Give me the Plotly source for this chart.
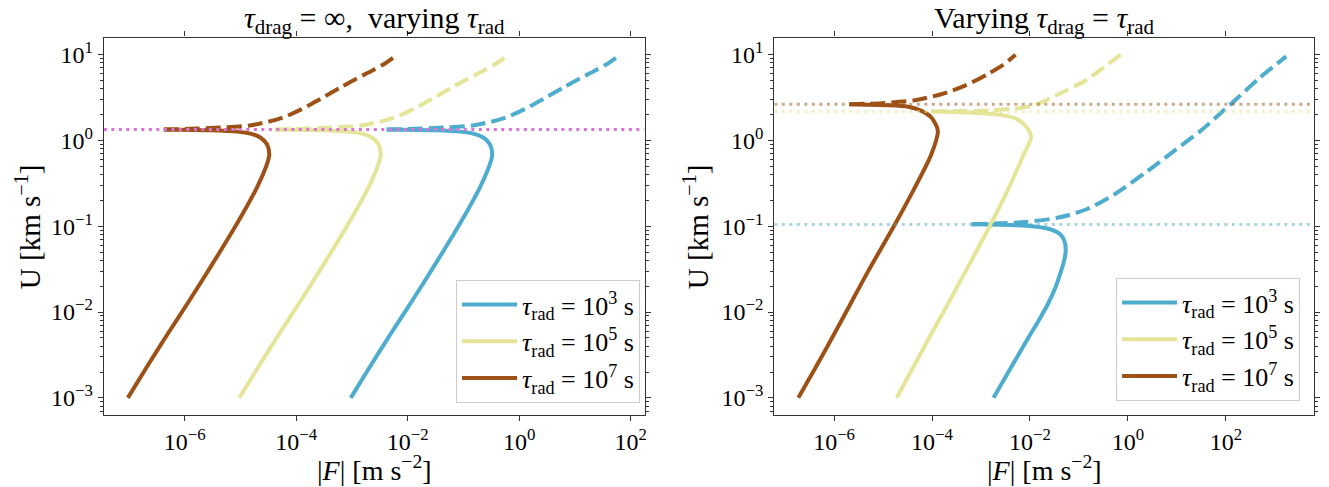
import numpy as np
import plotly.graph_objects as go

# ---------------- data (log10 values) ----------------
# Left panel: tau_drag = inf, varying tau_rad
L_brown_solid_logF = [-7.02, -6.66, -6.30, -5.93, -5.56, -5.2, -5.032, -4.704, -4.524, -4.482, -4.524, -4.643, -4.822, -5.062, -5.539, -6.375]
L_yellow_solid_logF = [-5.02, -4.66, -4.30, -3.93, -3.56, -3.2, -3.032, -2.704, -2.524, -2.482, -2.524, -2.643, -2.822, -3.062, -3.539, -4.375]
L_blue_solid_logF = [-3.02, -2.66, -2.30, -1.93, -1.56, -1.2, -1.032, -0.704, -0.524, -0.482, -0.524, -0.643, -0.822, -1.062, -1.539, -2.375]
L_solid_logU = [-3.0, -2.62, -2.25, -1.88, -1.5, -1.12, -0.937, -0.549, -0.277, -0.16, -0.044, 0.034, 0.08, 0.103, 0.118, 0.127]

L_brown_dash_logF = [-6.375, -5.9, -5.36, -4.8, -4.27, -3.9, -3.55, -3.2, -2.92, -2.65, -2.4, -2.19]
L_yellow_dash_logF = [-4.375, -3.9, -3.36, -2.8, -2.27, -1.9, -1.55, -1.2, -0.92, -0.65, -0.4, -0.18]
L_blue_dash_logF = [-2.375, -1.9, -1.36, -0.8, -0.27, 0.1, 0.45, 0.8, 1.08, 1.35, 1.6, 1.81]
L_dash_logU = [0.127, 0.135, 0.150, 0.178, 0.26, 0.365, 0.49, 0.62, 0.72, 0.81, 0.9, 1.0]

L_Ucrit = [1.34]  # km/s, dotted line

# Right panel: varying tau_drag = tau_rad
R_brown_solid_logF = [-6.73, -6.38, -6.04, -5.68, -5.30, -4.757, -4.352, -4.014, -3.881, -4.014, -4.217, -4.488, -4.96, -5.688]
R_brown_solid_logU = [-3.0, -2.65, -2.30, -1.92, -1.52, -0.977, -0.549, -0.16, 0.112, 0.267, 0.345, 0.392, 0.411, 0.422]
R_brown_dash_logF = [-5.688, -5.3, -4.96, -4.352, -3.812, -3.34, -2.868, -2.55, -2.294]
R_brown_dash_logU = [0.422, 0.428, 0.438, 0.469, 0.539, 0.636, 0.772, 0.88, 0.998]

R_yellow_solid_logF = [-4.723, -4.39, -4.058, -3.69, -3.31, -2.8, -2.43, -2.126, -1.978, -2.059, -2.261, -2.597, -3.138, -4.014]
R_yellow_solid_logU = [-3.0, -2.65, -2.30, -1.92, -1.52, -0.977, -0.549, -0.16, 0.034, 0.150, 0.247, 0.298, 0.322, 0.337]
R_yellow_dash_logF = [-4.014, -3.4, -2.767, -1.957, -1.417, -0.877, -0.5, -0.136]
R_yellow_dash_logU = [0.337, 0.342, 0.352, 0.403, 0.539, 0.695, 0.85, 1.005]

R_blue_solid_logF = [-2.744, -2.39, -2.031, -1.827, -1.637, -1.48, -1.364, -1.303, -1.27, -1.297, -1.385, -1.589, -2.07, -3.19]
R_blue_solid_logU = [-3.0, -2.65, -2.297, -2.103, -1.909, -1.714, -1.52, -1.403, -1.287, -1.17, -1.093, -1.035, -0.995, -0.977]
R_blue_dash_logF = [-3.19, -2.6, -2.091, -1.417, -0.844, -0.27, 0.405, 0.945, 1.484, 1.93, 2.1, 2.698, 3.158, 3.23]
R_blue_dash_logU = [-0.977, -0.965, -0.950, -0.899, -0.802, -0.627, -0.354, -0.121, 0.112, 0.337, 0.422, 0.733, 0.946, 0.98]

R_Ucrit = [2.64, 2.17, 0.105]  # brown, yellow, blue

legend_labels = ["<i>τ</i><sub>rad</sub> = 10<sup>3</sup> s",
                 "<i>τ</i><sub>rad</sub> = 10<sup>5</sup> s",
                 "<i>τ</i><sub>rad</sub> = 10<sup>7</sup> s"]
x_tick_exps = [-6, -4, -2, 0, 2]
y_tick_exps = [-3, -2, -1, 0, 1]

# ---------------- styling ----------------
C_BLUE = "#4EACCE"
C_YELLOW = "#E5E599"
C_BROWN = "#9E5116"
C_MAGENTA = "#D873D8"
C_DOT = ["rgba(158,81,22,0.5)", "rgba(229,229,153,0.55)", "rgba(78,172,206,0.5)"]
FONT = "Liberation Serif"
W, H = 1329, 487
LW = 4
DASH = "15px,6px"

L_xrange = [-7.45, 2.25]
R_xrange = [-7.22, 3.80]
Y_range = [-3.2, 1.2]

def p(v):
    return np.power(10.0, np.array(v, dtype=float))

fig = go.Figure()

def add_curve(xa, ya, logF, logU, color, dash, name=None, legend=None, show=False):
    fig.add_trace(go.Scatter(
        x=p(logF), y=p(logU), mode="lines", xaxis=xa, yaxis=ya,
        line=dict(color=color, width=LW, dash=dash, shape="spline", smoothing=0.8),
        name=name, showlegend=show, legend=legend, hoverinfo="skip"))

# left panel
add_curve("x", "y", L_blue_solid_logF, L_solid_logU, C_BLUE, "solid", legend_labels[0], "legend", True)
add_curve("x", "y", L_blue_dash_logF, L_dash_logU, C_BLUE, DASH, legend="legend")
add_curve("x", "y", L_yellow_solid_logF, L_solid_logU, C_YELLOW, "solid", legend_labels[1], "legend", True)
add_curve("x", "y", L_yellow_dash_logF, L_dash_logU, C_YELLOW, DASH, legend="legend")
add_curve("x", "y", L_brown_solid_logF, L_solid_logU, C_BROWN, "solid", legend_labels[2], "legend", True)
add_curve("x", "y", L_brown_dash_logF, L_dash_logU, C_BROWN, DASH, legend="legend")

# right panel
add_curve("x2", "y2", R_blue_solid_logF, R_blue_solid_logU, C_BLUE, "solid", legend_labels[0], "legend2", True)
add_curve("x2", "y2", R_blue_dash_logF, R_blue_dash_logU, C_BLUE, DASH, legend="legend2")
add_curve("x2", "y2", R_yellow_solid_logF, R_yellow_solid_logU, C_YELLOW, "solid", legend_labels[1], "legend2", True)
add_curve("x2", "y2", R_yellow_dash_logF, R_yellow_dash_logU, C_YELLOW, DASH, legend="legend2")
add_curve("x2", "y2", R_brown_solid_logF, R_brown_solid_logU, C_BROWN, "solid", legend_labels[2], "legend2", True)
add_curve("x2", "y2", R_brown_dash_logF, R_brown_dash_logU, C_BROWN, DASH, legend="legend2")

# dotted critical-velocity lines (full axis width)
for u in L_Ucrit:
    fig.add_trace(go.Scatter(x=p(L_xrange), y=[u, u], mode="lines", xaxis="x", yaxis="y",
                             line=dict(color=C_MAGENTA, width=3, dash="3px,4.5px"),
                             showlegend=False, hoverinfo="skip"))
for u, c in zip(R_Ucrit, C_DOT):
    fig.add_trace(go.Scatter(x=p(R_xrange), y=[u, u], mode="lines", xaxis="x2", yaxis="y2",
                             line=dict(color=c, width=3, dash="3px,4.5px"),
                             showlegend=False, hoverinfo="skip"))

# ---------------- axes ----------------
def sup(e):
    return "10<sup>" + (str(e) if e >= 0 else "\u2212" + str(-e)) + "</sup>"

minor_y = [m * 10.0 ** d for d in range(-4, 2) for m in range(2, 10)]
minor_y = [v for v in minor_y if Y_range[0] <= np.log10(v) <= Y_range[1]]

axis_common = dict(type="log", showgrid=False, zeroline=False, showline=True,
                   linecolor="#333333", linewidth=1.2, mirror="ticks",
                   ticks="outside", ticklen=5, tickwidth=1.1, tickcolor="#333333",
                   tickfont=dict(family=FONT, size=24, color="black"))

xdom_L = [104 / W, 645.5 / W]
xdom_R = [775.5 / W, 1316 / W]
ydom = [1 - 415 / H, 1 - 37.5 / H]

yaxis_style = dict(axis_common, range=Y_range, domain=ydom,
                   tickmode="array", tickvals=[10.0 ** e for e in y_tick_exps],
                   ticktext=[sup(e) for e in y_tick_exps],
                   minor=dict(ticks="outside", ticklen=3, tickwidth=0.8, tickcolor="#333333",
                              tickmode="array", tickvals=minor_y))

legend_common = dict(xanchor="right", yanchor="bottom",
                     bgcolor="rgba(255,255,255,0.85)", bordercolor="#cccccc", borderwidth=1,
                     font=dict(family=FONT, size=26), itemwidth=55, tracegroupgap=0)

fig.update_layout(
    width=W, height=H, margin=dict(l=0, r=0, t=0, b=0),
    paper_bgcolor="white", plot_bgcolor="white",
    font=dict(family=FONT, color="black"),
    xaxis=dict(axis_common, range=L_xrange, domain=xdom_L, anchor="y",
               tickmode="array", tickvals=[10.0 ** e for e in x_tick_exps],
               ticktext=[sup(e) for e in x_tick_exps]),
    yaxis=dict(yaxis_style, anchor="x"),
    xaxis2=dict(axis_common, range=R_xrange, domain=xdom_R, anchor="y2",
                tickmode="array", tickvals=[10.0 ** e for e in x_tick_exps],
                ticktext=[sup(e) for e in x_tick_exps]),
    yaxis2=dict(yaxis_style, anchor="x2"),
    legend=dict(legend_common, x=641 / W, y=1 - 403 / H),
    legend2=dict(legend_common, x=1302 / W, y=1 - 401 / H),
)

cx_L = (xdom_L[0] + xdom_L[1]) / 2
cx_R = (xdom_R[0] + xdom_R[1]) / 2
cy = (ydom[0] + ydom[1]) / 2
titles = [("<i>τ</i><sub>drag</sub> = ∞,  varying <i>τ</i><sub>rad</sub>", cx_L),
          ("Varying <i>τ</i><sub>drag</sub> = <i>τ</i><sub>rad</sub>", cx_R)]
for t, xc in titles:
    fig.add_annotation(text=t, x=xc, y=1 - 40 / H, xref="paper", yref="paper", showarrow=False,
                       xanchor="center", yanchor="bottom", borderpad=0,
                       font=dict(family=FONT, size=30, color="black"))
for xc in [cx_L, cx_R]:
    fig.add_annotation(text="|<i>F</i>| [m s<sup>\u22122</sup>]", x=xc, y=1 - 468 / H,
                       xref="paper", yref="paper", showarrow=False,
                       xanchor="center", yanchor="middle",
                       font=dict(family=FONT, size=28, color="black"))
for xpos in [28 / W, 697 / W]:
    fig.add_annotation(text="U [km s<sup>\u22121</sup>]", x=xpos, y=cy, xref="paper", yref="paper",
                       showarrow=False, textangle=-90, xanchor="center", yanchor="middle",
                       font=dict(family=FONT, size=29, color="black"))

fig.write_html("out.html")
